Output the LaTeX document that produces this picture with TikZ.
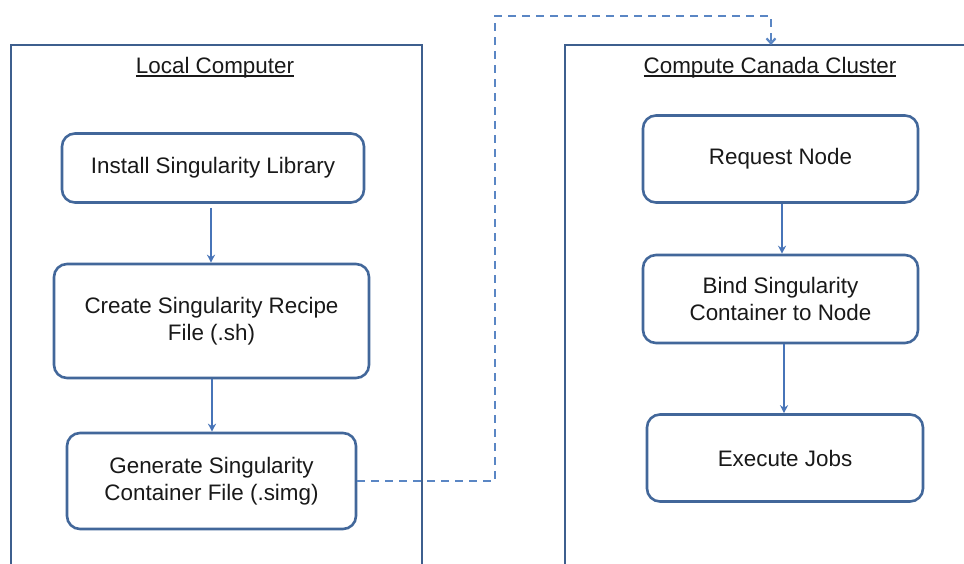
\documentclass[tikz,border=0pt]{standalone}
\usepackage{fontspec}
\setmainfont{Liberation Sans}
\usetikzlibrary{arrows.meta}
\definecolor{framecol}{HTML}{3E5F8E}
\definecolor{boxcol}{HTML}{42679A}
\definecolor{arrcol}{HTML}{4774B8}
\definecolor{dashcol}{HTML}{5A86C4}
\newcommand{\ulin}[1]{\leavevmode\setbox0\hbox{#1}\rlap{\copy0}\raisebox{-3pt}{\rule{\wd0}{1.6pt}}}
\tikzset{
  stepbox/.style={draw=boxcol, line width=2.6pt, rounded corners=13pt, align=center,
    font=\fontsize{22.4}{27}\selectfont, inner sep=0pt, text=black!90},
  frame/.style={draw=framecol, line width=2.8pt},
  arr/.style={draw=arrcol, line width=2.6pt, -{Stealth[length=8pt,width=8pt]}},
  dasharr/.style={draw=dashcol, line width=2.2pt, dash pattern=on 8pt off 6pt, -{Straight Barb[length=5pt,width=9pt]}},
  ttl/.style={font=\fontsize{22.4}{27}\selectfont, inner sep=0pt, anchor=base, text=black!90}
}
\begin{document}
\begin{tikzpicture}[x=1pt,y=-1pt]
\useasboundingbox (0,0) rectangle (964,564);
\fill[white] (0,0) rectangle (964,564);
% frames
\draw[frame] (11,564) -- (11,45) -- (422,45) -- (422,564);
\draw[frame] (565,564) -- (565,45) -- (964,45);
\coordinate (rtop) at (771,45);
\node[ttl] (ltitle) at (215,74) {\ulin{Local Computer}};
\node[ttl] (rtitle) at (770,74) {\ulin{Compute Canada Cluster}};
% left nodes
\node[stepbox, minimum width=302pt, minimum height=69pt] (inst) at (213,168) {Install Singularity Library};
\node[stepbox, minimum width=315pt, minimum height=114pt] (create) at (211.5,321) {Create Singularity Recipe\\File (.sh)};
\node[stepbox, minimum width=289pt, minimum height=96pt] (gen) at (211.5,481) {Generate Singularity\\Container File (.simg)};
% right nodes
\node[stepbox, minimum width=275pt, minimum height=87pt] (req) at (780.5,159) {Request Node};
\node[stepbox, minimum width=275pt, minimum height=88pt] (bind) at (780.5,299) {Bind Singularity\\Container to Node};
\node[stepbox, minimum width=276pt, minimum height=87pt] (exec) at (785,458) {Execute Jobs};
% arrows
\draw[arr, shorten <=4pt] (211,0 |- inst.south) -- (211,0 |- create.north);
\draw[arr] (212,0 |- create.south) -- (212,0 |- gen.north);
\draw[arr] (782,0 |- req.south) -- (782,0 |- bind.north);
\draw[arr] (784,0 |- bind.south) -- (784,0 |- exec.north);
% dashed connector
\coordinate (dtop) at (771,16);
\draw[dasharr] (gen.east) -- (495,0 |- gen.east) -- (495,16) -- (dtop) -- (rtop);
\end{tikzpicture}
\end{document}
